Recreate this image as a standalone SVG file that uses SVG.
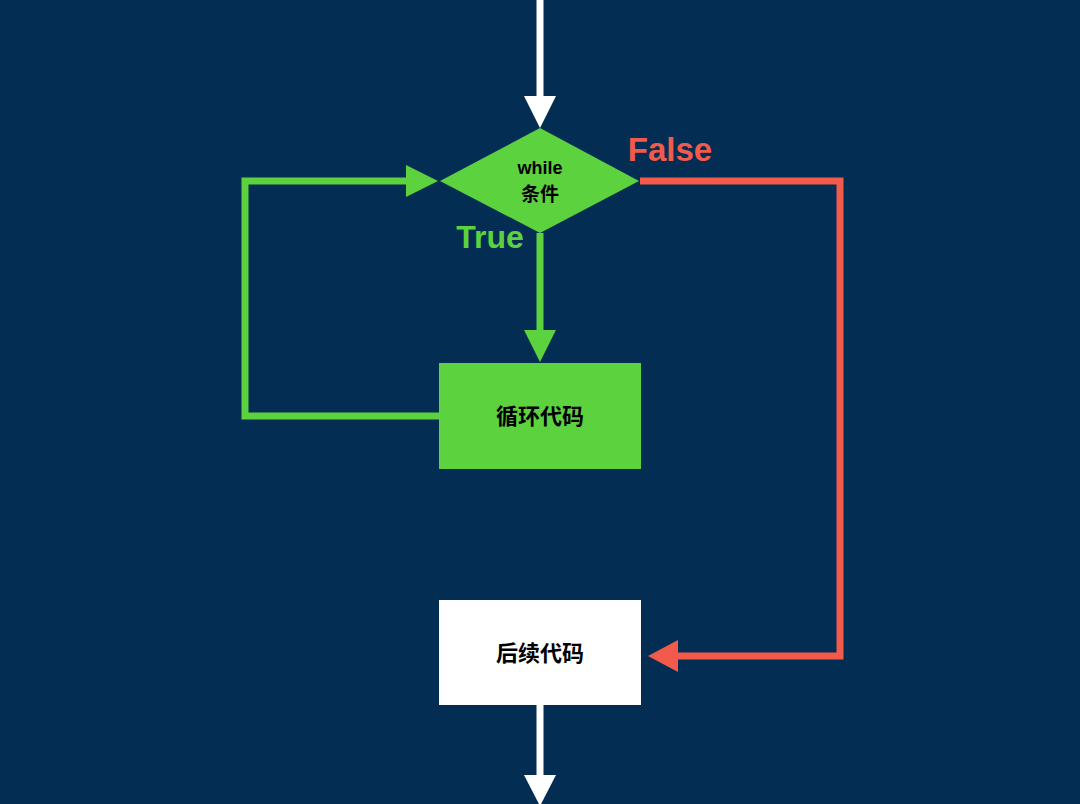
<svg xmlns="http://www.w3.org/2000/svg" width="1080" height="804" viewBox="0 0 1080 804">
<style>
.lbl{font-family:"Liberation Sans","Noto Sans CJK SC",sans-serif;font-weight:bold;text-anchor:middle}
.g{fill:none;stroke:#5dd23f;stroke-width:7}
.r{fill:none;stroke:#f25a4b;stroke-width:7}
.w{fill:none;stroke:#ffffff;stroke-width:7}
</style>
<rect x="0" y="0" width="1080" height="804" fill="#032d53"/>
<g id="connectors">
  <line class="w" x1="540" y1="0" x2="540" y2="98"/>
  <polygon points="524,96 556,96 540,128" fill="#ffffff"/>
  <line class="g" x1="540" y1="233" x2="540" y2="332"/>
  <polygon points="524,330 556,330 540,362" fill="#5dd23f"/>
  <polyline class="g" points="440,416 245,416 245,181 408,181"/>
  <polygon points="406,165 406,197 438,181" fill="#5dd23f"/>
  <polyline class="r" points="640,181 840,181 840,656 676,656"/>
  <polygon points="678,640 678,672 648,656" fill="#f25a4b"/>
  <line class="w" x1="540" y1="705" x2="540" y2="778"/>
  <polygon points="524,775 556,775 540,806" fill="#ffffff"/>
  <text class="lbl" x="670" y="161" font-size="33" fill="#f25a4b">False</text>
  <text class="lbl" x="490" y="248" font-size="32" fill="#5dd23f">True</text>
</g>
<g id="cond">
  <polygon points="540,128 639,181 540,233 440,181" fill="#5dd23f"/>
  <text class="lbl" x="540" y="174" font-size="18" fill="#000">while</text>
  <text class="lbl" x="540" y="201" font-size="19" fill="#000">条件</text>
</g>
<g id="loop">
  <rect x="439" y="363" width="202" height="106" fill="#5dd23f"/>
  <text class="lbl" x="540" y="424" font-size="22" fill="#000">循环代码</text>
</g>
<g id="after">
  <rect x="439" y="600" width="202" height="105" fill="#ffffff"/>
  <text class="lbl" x="540" y="661" font-size="22" fill="#000">后续代码</text>
</g>
</svg>
